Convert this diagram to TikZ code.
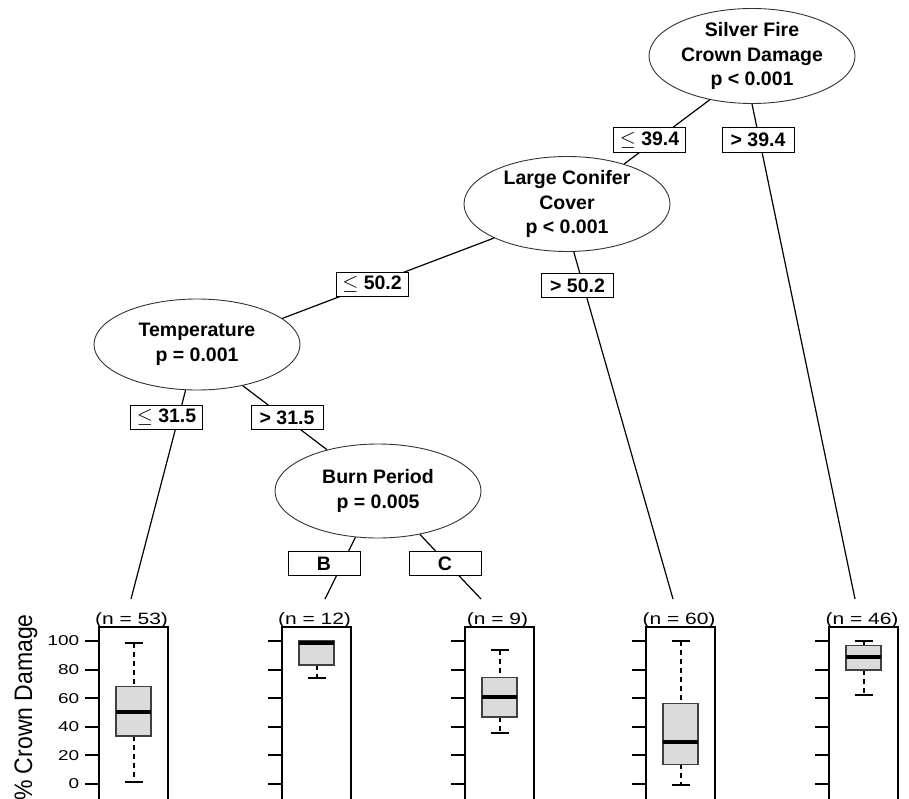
\documentclass[tikz,border=0pt]{standalone}
\usepackage{fontspec}
\usepackage{graphicx}
\setmainfont{Liberation Sans}
\usetikzlibrary{shapes.geometric}
\begin{document}
\begin{tikzpicture}[x=1pt,y=-1pt,
  splitnode/.style={ellipse, draw=black!80, line width=0.9pt, fill=white, inner sep=0pt,
    minimum width=206pt, minimum height=94pt, align=center,
    font=\bfseries\fontsize{19.5}{24.5}\selectfont},
  lab/.style={rectangle, draw=black, line width=0.9pt, fill=white, inner sep=0pt,
    minimum width=72pt, minimum height=24.5pt, font=\bfseries\fontsize{19.5}{24}\selectfont},
  conn/.style={line width=1.2pt, black},
  panel/.style={draw=black, line width=1.1pt},
  tk/.style={line width=2pt, black},
  whisk/.style={line width=2pt, dash pattern=on 5pt off 4pt, black},
  capline/.style={line width=2pt, black},
  bx/.style={draw=black!75, line width=1.1pt, fill=black!14},
  med/.style={line width=4pt, black},
  nlab/.style={anchor=base, inner sep=0pt, font=\fontsize{21}{24}\selectfont},
  ticklab/.style={anchor=east, inner sep=0pt, font=\fontsize{19}{22}\selectfont}
]
\useasboundingbox (0,0) rectangle (909,799);
\clip (0,0) rectangle (909,799);

% inner nodes
\node[splitnode] (root) at (752,56) {Silver Fire\\Crown Damage\\p < 0.001};
\node[splitnode] (lc) at (567,204) {Large Conifer\\Cover\\p < 0.001};
\node[splitnode, minimum height=91pt] (temp) at (197,344.5) {Temperature\\p = 0.001};
\node[splitnode] (burn) at (378,491) {Burn Period\\p = 0.005};

% terminal tops
\coordinate (t1) at (131,599);
\coordinate (t2) at (325,599);
\coordinate (t3) at (481,599);
\coordinate (t4) at (673,599);
\coordinate (t5) at (855,599);

% edges
\draw[conn] (root.-134) -- (lc.35);
\draw[conn] (root.-90) -- (t5);
\draw[conn] (lc.-155) -- (temp.17);
\draw[conn] (lc.-82) -- (t4);
\draw[conn] (temp.-104) -- (t1);
\draw[conn] (temp.-42) -- (burn.141);
\draw[conn] (burn.-116) -- (t2);
\draw[conn] (burn.-46) -- (t3);

% edge labels
\node[lab] (l1) at (649.5,140) {$\leq$ 39.4};
\node[lab] (l2) at (758,140) {> 39.4};
\node[lab] (l3) at (372,284.5) {$\leq$ 50.2};
\node[lab] (l4) at (577.5,285.5) {> 50.2};
\node[lab] (l5) at (166.5,417.5) {$\leq$ 31.5};
\node[lab] (l6) at (287,417.5) {> 31.5};
\node[lab] (l7) at (324,563.5) {B};
\node[lab] (l8) at (445,563.5) {C};

% terminal panels
\foreach \L/\wt/\bt/\md/\bb/\wb in {99/642.7/686.7/711.7/736/781.7, 282/641/641/643/665/678, 465/650/677.3/696.7/717/733, 646/641/703.3/741.7/764.3/785, 829/641/645.3/656.7/670/694.7} {
  \pgfmathsetmacro\c{\L+34.5}
  \draw[panel] (\L,627) rectangle ++(69,190);
  \foreach \v in {641,669.6,698.2,726.8,755.4,784} \draw[tk] (\L-14,\v) -- (\L,\v);
  \draw[whisk] (\c,\wt) -- (\c,\bt) (\c,\bb) -- (\c,\wb);
  \draw[capline] (\c-9,\wt) -- (\c+9,\wt) (\c-9,\wb) -- (\c+9,\wb);
  \draw[bx] (\c-17.5,\bt) rectangle (\c+17.5,\bb);
  \draw[med] (\c-17.5,\md) -- (\c+17.5,\md);
}

\node[nlab] (n1) at (131.5,624) {\scalebox{1}[0.78]{(n = 53)}};
\node[nlab] (n2) at (314.5,624) {\scalebox{1}[0.78]{(n = 12)}};
\node[nlab] (n3) at (497.5,624) {\scalebox{1}[0.78]{(n = 9)}};
\node[nlab] (n4) at (679,624) {\scalebox{1}[0.78]{(n = 60)}};
\node[nlab] (n5) at (862,624) {\scalebox{1}[0.78]{(n = 46)}};

% axis labels
\foreach \v/\t in {641/100,669.6/80,698.2/60,726.8/40,755.4/20,784/0}
  \node[ticklab] at (79.5,\v) {\scalebox{1}[0.75]{\t}};
\node[rotate=90, anchor=base east, inner sep=0pt, font=\fontsize{23}{26}\selectfont] (ylab) at (32,614) {\scalebox{1}[1.1]{\% Crown Damage}};
\end{tikzpicture}
\end{document}
